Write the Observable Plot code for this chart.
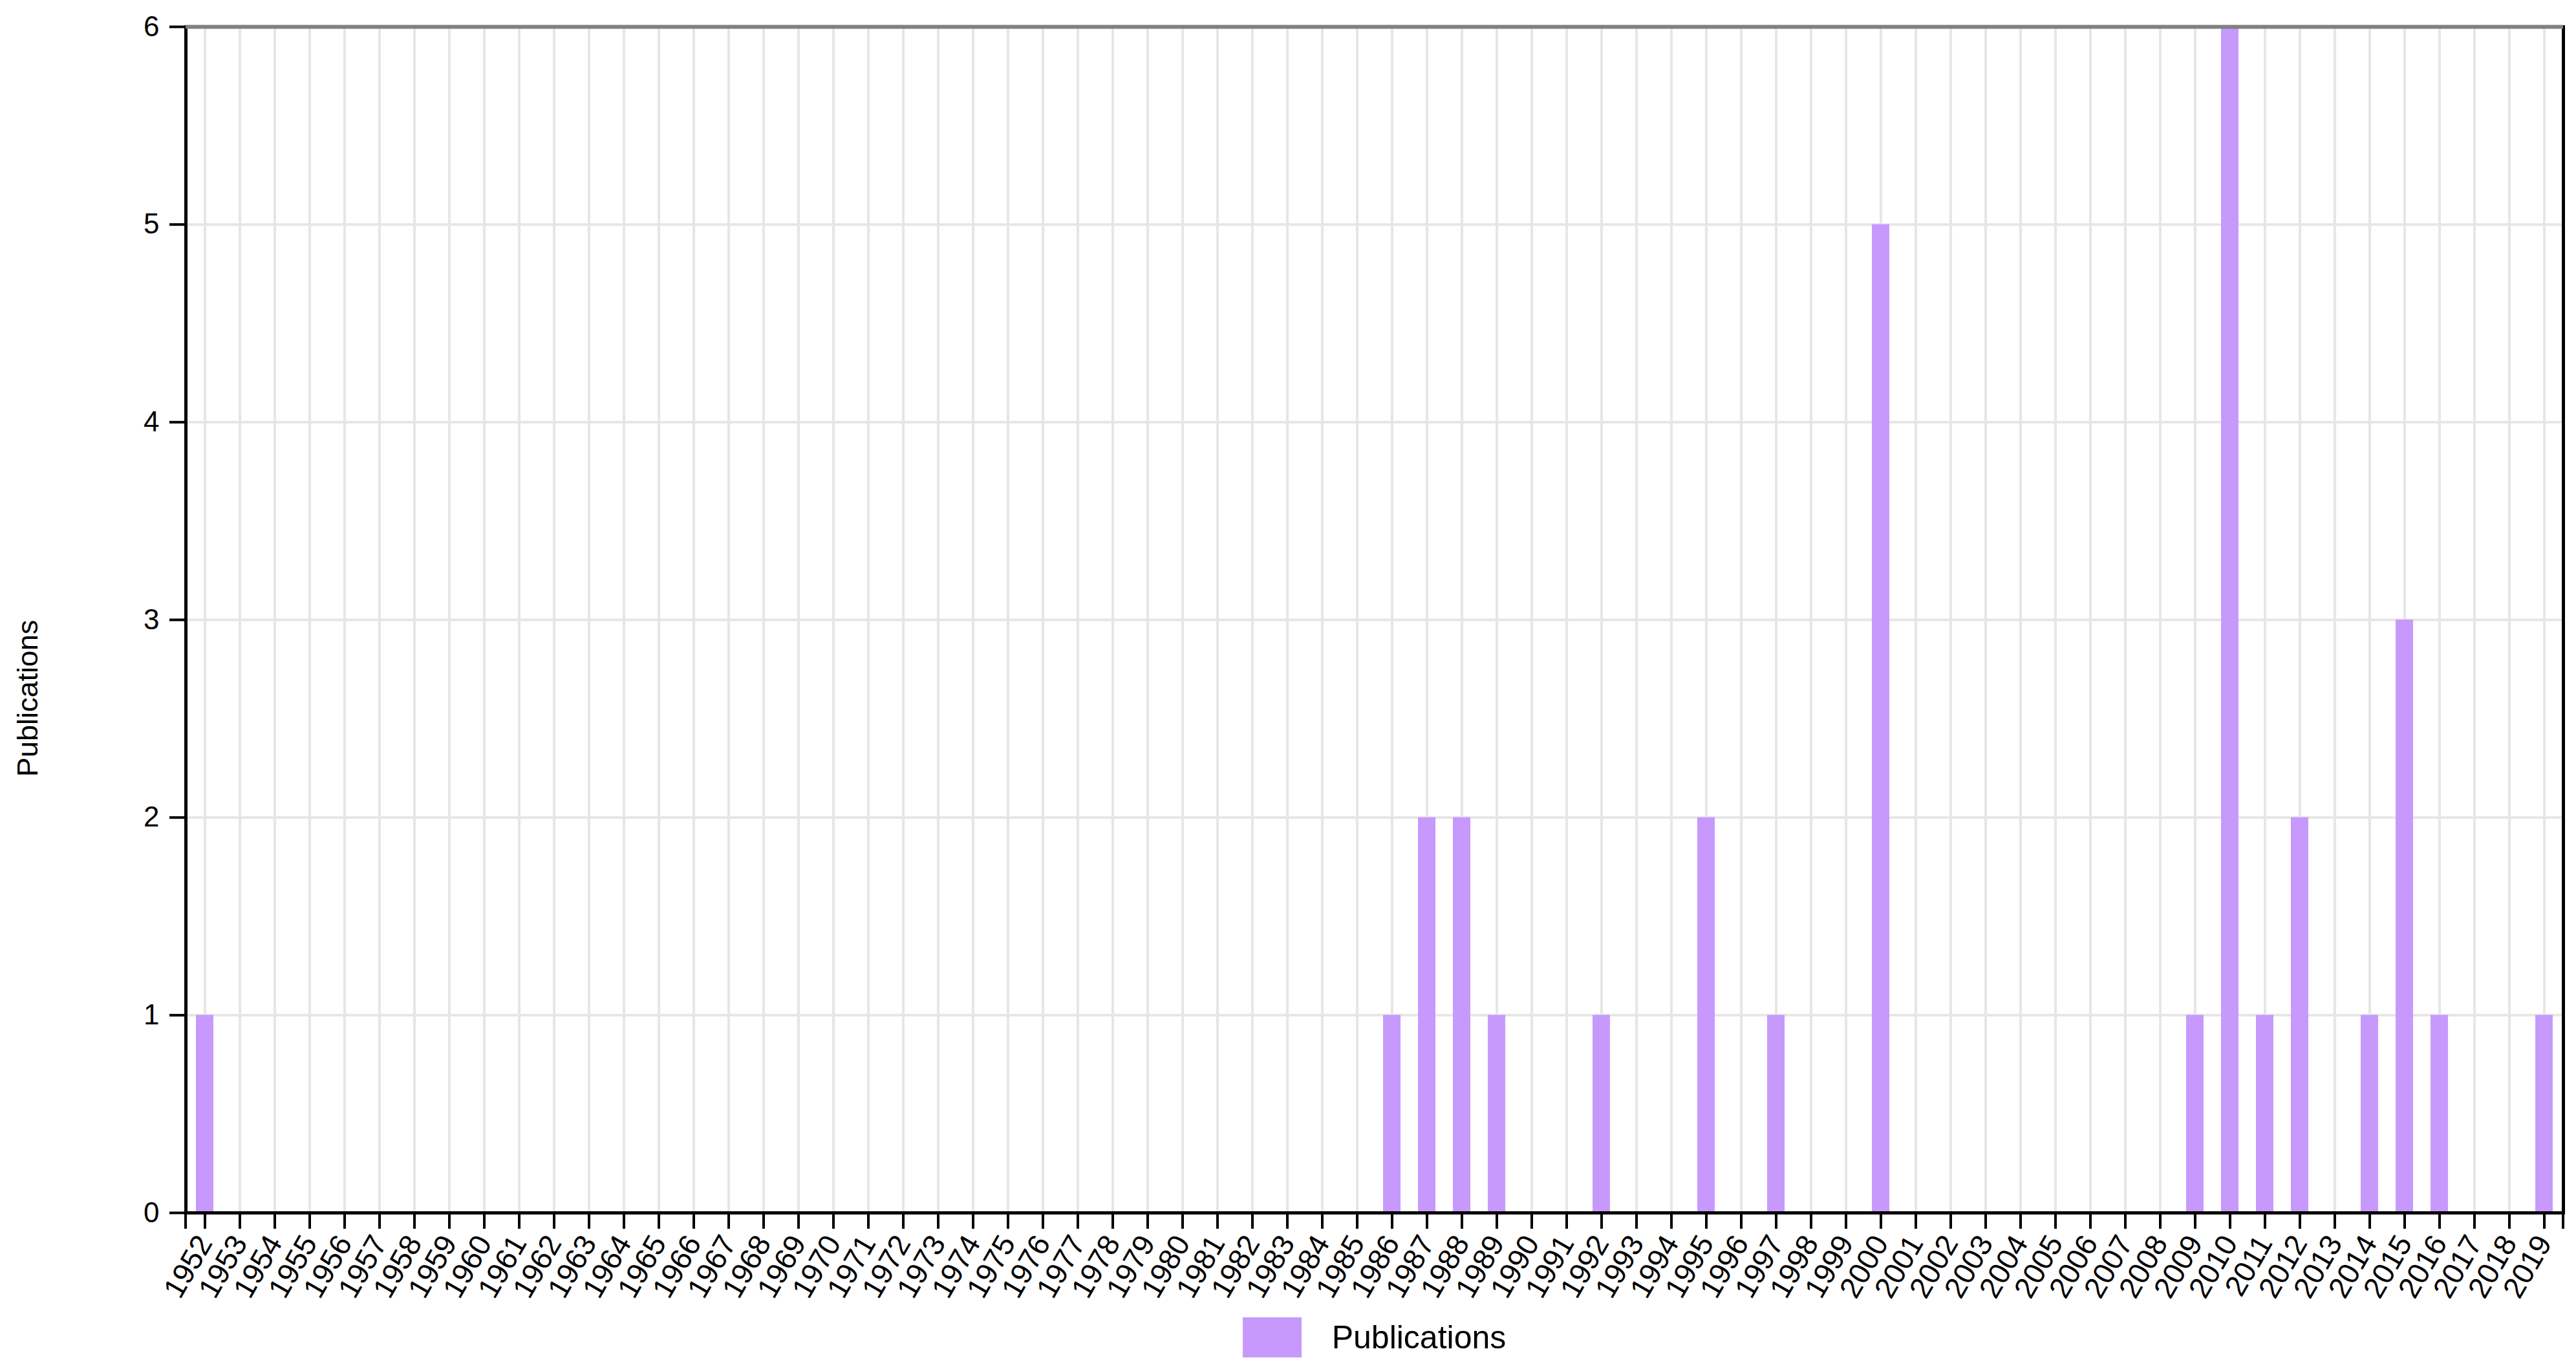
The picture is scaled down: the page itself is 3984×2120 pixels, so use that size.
<!DOCTYPE html>
<html>
<head>
<meta charset="utf-8">
<script src="https://cdn.jsdelivr.net/npm/d3@7"></script>
<script src="https://cdn.jsdelivr.net/npm/@observablehq/plot@0.6"></script>
<style>
  html, body { margin: 0; padding: 0; background: #fff; }
  body { width: 3984px; height: 2120px; overflow: hidden; font-family: "Liberation Sans", Arial, Helvetica, sans-serif; }
  #chart svg { display: block; overflow: visible; }
  #legend { height: 84px; display: flex; align-items: center; justify-content: center; box-sizing: border-box; }
  #legend .sw { width: 91px; height: 62px; background: #c799fd; margin-right: 47px; }
  #legend .lb { font-size: 50px; color: #000; }
</style>
</head>
<body>
<div id="chart"></div>
<div id="legend"><div class="sw"></div><div class="lb">Publications</div></div>
<script>
const years = [
  1952, 1953, 1954, 1955, 1956, 1957, 1958, 1959, 1960, 1961, 1962, 1963, 1964, 1965, 1966, 1967, 1968,
  1969, 1970, 1971, 1972, 1973, 1974, 1975, 1976, 1977, 1978, 1979, 1980, 1981, 1982, 1983, 1984, 1985,
  1986, 1987, 1988, 1989, 1990, 1991, 1992, 1993, 1994, 1995, 1996, 1997, 1998, 1999, 2000, 2001, 2002,
  2003, 2004, 2005, 2006, 2007, 2008, 2009, 2010, 2011, 2012, 2013, 2014, 2015, 2016, 2017, 2018, 2019
];
const publications = [
  1, 0, 0, 0, 0, 0, 0, 0, 0, 0, 0, 0, 0, 0, 0, 0, 0,
  0, 0, 0, 0, 0, 0, 0, 0, 0, 0, 0, 0, 0, 0, 0, 0, 0,
  1, 2, 2, 1, 0, 0, 1, 0, 0, 2, 0, 1, 0, 0, 5, 0, 0,
  0, 0, 0, 0, 0, 0, 1, 6, 1, 2, 0, 1, 3, 1, 0, 0, 1
];
const yTicks = [0, 1, 2, 3, 4, 5, 6];
const seriesName = "Publications";
const barColor = "#c799fd";

const data = years.map((y, i) => ({year: String(y), value: publications[i]}));
const yearLabels = years.map(String);

const W = 3984, H = 2026;
const mL = 287, mR = 20, mT = 41, mB = 151;

// outer ticks at both ends of the x axis (like d3's tickSizeOuter)
function outerTicks(index, scales, values, dims) {
  const g = d3.create("svg:g").attr("stroke", "black").attr("stroke-width", 4);
  const x0 = dims.marginLeft, x1 = dims.width - dims.marginRight;
  const yb = dims.height - dims.marginBottom;
  for (const x of [x0, x1]) {
    g.append("line").attr("x1", x).attr("x2", x).attr("y1", yb).attr("y2", yb + 25);
  }
  return g.node();
}

const chart = Plot.plot({
  width: W,
  height: H,
  marginLeft: mL,
  marginRight: mR,
  marginTop: mT,
  marginBottom: mB,
  style: {fontFamily: "'Liberation Sans', Arial, Helvetica, sans-serif", fontSize: "44px", background: "#fff", color: "#000", overflow: "visible"},
  x: {domain: yearLabels, paddingInner: 0.5, paddingOuter: 0.25, label: null},
  y: {domain: [0, 6], label: null},
  marks: [
    Plot.gridX(yearLabels, {stroke: "#e6e6e6", strokeOpacity: 1, strokeWidth: 4}),
    Plot.gridY(yTicks, {stroke: "#e6e6e6", strokeOpacity: 1, strokeWidth: 4}),
    Plot.barY(data, {x: "year", y: "value", fill: barColor}),
    Plot.frame({stroke: "#000", strokeWidth: 5}),
    Plot.ruleY([6], {stroke: "#808080", strokeWidth: 6}),
    Plot.ruleY([0], {stroke: "#000", strokeWidth: 5}),
    Plot.axisY(yTicks, {tickSize: 25, tickPadding: 16, strokeWidth: 4, fontSize: 44, tickFormat: "d", label: null}),
    Plot.axisX(yearLabels, {tickSize: 25, tickRotate: -60, tickPadding: 14, strokeWidth: 4, fontSize: 46, label: null}),
    outerTicks,
    Plot.text([seriesName], {frameAnchor: "left", rotate: -90, textAnchor: "end", dx: -244, fontSize: 45, fill: "#000"})
  ]
});
document.getElementById("chart").appendChild(chart);
const lg = document.getElementById("legend");
lg.style.paddingLeft = mL + "px";
lg.style.paddingRight = mR + "px";
</script>
</body>
</html>
